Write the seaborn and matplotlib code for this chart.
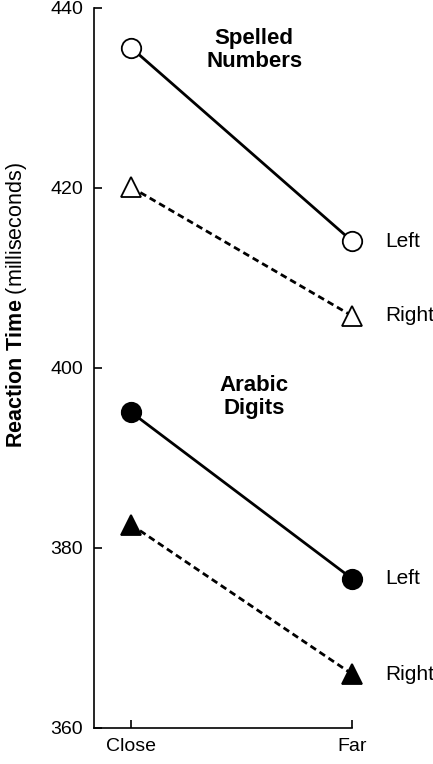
import pandas as pd
import seaborn as sns
import matplotlib.pyplot as plt

# data
distance = ["Close", "Far"]
spelled_left = [435.6, 414.1]
spelled_right = [420.1, 405.8]
arabic_left = [395.1, 376.6]
arabic_right = [382.6, 366.0]
y_ticks = [360, 380, 400, 420, 440]

sns.set_theme(style="ticks")
plt.rcParams["font.family"] = ["Liberation Sans", "DejaVu Sans"]
plt.rcParams["text.color"] = "black"
plt.rcParams["mathtext.fontset"] = "custom"
plt.rcParams["mathtext.rm"] = "Liberation Sans"
plt.rcParams["mathtext.bf"] = "Liberation Sans:bold"

fig = plt.figure(figsize=(4.33, 7.64), dpi=100)
ax = fig.add_axes([94 / 433, 1 - 728 / 764, (352 - 94) / 433, 720 / 764])

series = [
    (spelled_left, "o", "white", "-"),
    (spelled_right, "^", "white", (0, (2.4, 1.5))),
    (arabic_left, "o", "black", "-"),
    (arabic_right, "^", "black", (0, (2.4, 1.5))),
]
for vals, mk, face, ls in series:
    df = pd.DataFrame({"distance": distance, "rt": vals})
    sns.lineplot(
        data=df, x="distance", y="rt", ax=ax,
        color="black", linewidth=2.0, linestyle=ls,
        marker=mk, markersize=14 if mk == "o" else 15,
        markerfacecolor=face, markeredgecolor="black",
        markeredgewidth=1.3, clip_on=False, zorder=3,
    )

# Left / Right labels next to the Far points
for vals, name in [(spelled_left, "Left"), (spelled_right, "Right"),
                   (arabic_left, "Left"), (arabic_right, "Right")]:
    ax.annotate(name, xy=(1, vals[1]), xytext=(24, 0),
                textcoords="offset points", va="center", ha="left",
                fontsize=15, color="black", annotation_clip=False)

ax.text(0.557, 435.3, "Spelled\nNumbers", ha="center", va="center",
        fontsize=16, fontweight="bold", linespacing=1.1, color="black")
ax.text(0.557, 396.8, "Arabic\nDigits", ha="center", va="center",
        fontsize=16, fontweight="bold", linespacing=1.1, color="black")

ax.set_xlim(-37 / 221, 1)
ax.set_ylim(360, 440)
ax.set_yticks(y_ticks)
ax.set_xlabel("")
ax.set_ylabel("")
sns.despine(ax=ax)
ax.spines["bottom"].set_bounds(-37 / 221, 1)
for sp in ["left", "bottom"]:
    ax.spines[sp].set_linewidth(1.2)
    ax.spines[sp].set_color("black")
ax.tick_params(axis="both", direction="in", length=6, width=1.2,
               color="black", labelsize=14, labelcolor="black")
ax.tick_params(axis="y", pad=8)
ax.tick_params(axis="x", pad=7)

fig.text(17 / 433, 1 - 305 / 764,
         r"$\bf{Reaction\ Time}$ (milliseconds)",
         rotation=90, ha="center", va="center", fontsize=15.5,
         color="black")

fig.savefig("out.png", dpi=100)
